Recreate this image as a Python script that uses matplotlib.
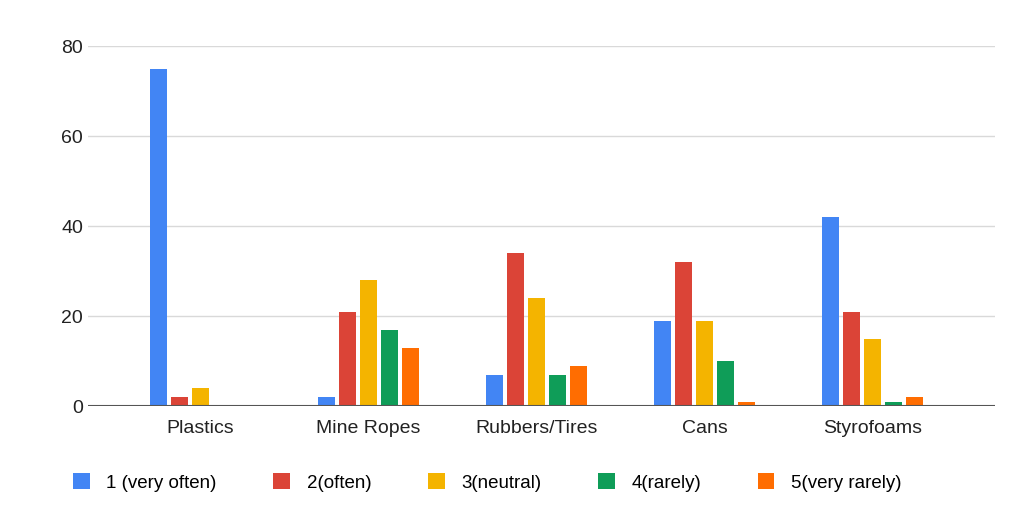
import numpy as np
import matplotlib.pyplot as plt

plt.rcParams['font.family'] = ['Liberation Sans', 'DejaVu Sans']

categories = ["Plastics", "Mine Ropes", "Rubbers/Tires", "Cans", "Styrofoams"]
series_names = ["1 (very often)", "2(often)", "3(neutral)", "4(rarely)", "5(very rarely)"]
very_often = [75, 2, 7, 19, 42]
often = [2, 21, 34, 32, 21]
neutral = [4, 28, 24, 19, 15]
rarely = [0, 17, 7, 10, 1]
very_rarely = [0, 13, 9, 1, 2]
colors = ["#4285F4", "#DB4437", "#F4B400", "#0F9D58", "#FF6D01"]

fig = plt.figure(figsize=(10.24, 5.24), dpi=100)
ax = fig.add_axes([0.086, 0.225, 0.886, 0.687])

x = np.arange(len(categories))
step = 0.125
for i, (vals, c, name) in enumerate(zip([very_often, often, neutral, rarely, very_rarely], colors, series_names)):
    ax.bar(x + (i - 2) * step, vals, width=0.1, color=c, label=name, zorder=3)

ax.set_xlim(-0.667, 4.73)
ax.set_ylim(0, 80)
ax.set_yticks([0, 20, 40, 60, 80])
ax.set_xticks(x)
ax.set_xticklabels(categories)
ax.grid(axis='y', color='#d9d9d9', linewidth=1, zorder=0)
ax.axhline(0, color='#555555', linewidth=1.5, zorder=4)
for s in ax.spines.values():
    s.set_visible(False)
ax.tick_params(length=0, labelsize=14, colors='#222222')
ax.tick_params(axis='x', pad=10)

ax.legend(loc='upper center', bbox_to_anchor=(0.44, -0.14), ncol=5, frameon=False,
          fontsize=13.5, handlelength=0.9, handleheight=0.9, columnspacing=3.0, handletextpad=0.9)

fig.savefig("out.png", dpi=100)
